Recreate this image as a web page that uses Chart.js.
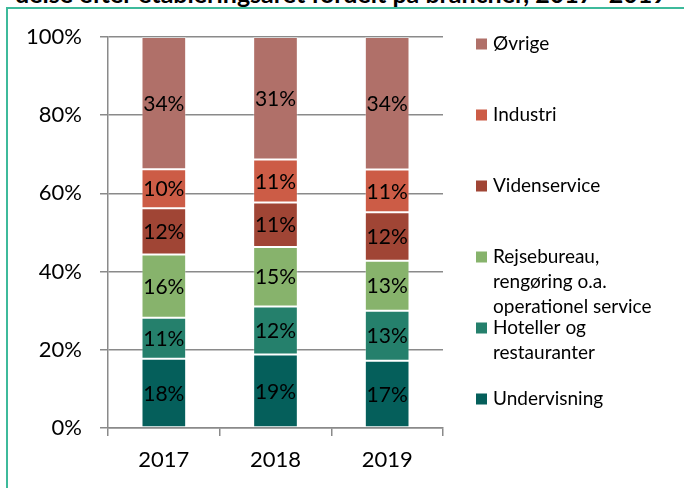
<!DOCTYPE html>
<html>
<head>
<meta charset="utf-8">
<script src="https://cdn.jsdelivr.net/npm/chart.js@4/dist/chart.umd.min.js"></script>
<style>
  html, body { margin: 0; padding: 0; background: #fff; overflow: hidden; }
  #wrap { position: relative; width: 684px; height: 488px; overflow: hidden; }
  #frame {
    position: absolute; left: 6px; top: 7px; width: 800px; height: 600px;
    border-left: 2px solid #3dba9b; border-top: 2px solid #3dba9b;
  }
  #title {
    position: absolute; left: 15px; top: -22px; white-space: nowrap;
    font: bold 25px Lato, sans-serif; line-height: 30px; color: #000;
  }
  canvas { position: absolute; left: 0; top: 0; }
</style>
</head>
<body>
<div id="wrap">
  <div id="title">delse efter etableringsåret fordelt på brancher, 2017- 2019</div>
  <div id="frame"></div>
  <canvas id="chart" width="684" height="488"></canvas>
</div>
<script>
// år
const years = ['2017', '2018', '2019'];

// brancher, nederst -> øverst i stakken
const seriesNames = [
  'Undervisning',
  'Hoteller og\nrestauranter',
  'Rejsebureau,\nrengøring o.a.\noperationel service',
  'Videnservice',
  'Industri',
  'Øvrige',
];
const seriesColors = ['#055f5b', '#25806c', '#87b36c', '#a04535', '#cc5c46', '#b07069'];

// andele i procent pr. år
const undervisning = [17.7, 18.8, 17.2];
const hoteller     = [10.5, 12.3, 12.8];
const rejsebureau  = [16.2, 15.2, 12.8];
const videnservice = [11.8, 11.4, 12.4];
const industri     = [10.0, 11.0, 10.9];
const oevrige      = [33.8, 31.3, 33.9];

const seriesValues = [undervisning, hoteller, rejsebureau, videnservice, industri, oevrige];

const yTicks = [0, 20, 40, 60, 80, 100];

const FONT = 'Lato, "Open Sans", sans-serif';

// procent-tekst midt i hvert segment
const segmentLabels = {
  id: 'segmentLabels',
  afterDatasetsDraw(chart) {
    const c = chart.ctx;
    c.save();
    c.font = '21px ' + FONT;
    c.fillStyle = '#000';
    c.textAlign = 'center';
    c.textBaseline = 'middle';
    chart.data.datasets.forEach((ds, di) => {
      chart.getDatasetMeta(di).data.forEach((bar, i) => {
        const p = bar.getProps(['x', 'y', 'base'], true);
        c.fillText(Math.round(ds.data[i]) + '%', p.x, (p.y + p.base) / 2 + 1);
      });
    });
    c.restore();
  }
};

// legende til højre, øverste serie først
const sideLegend = {
  id: 'sideLegend',
  afterDraw(chart) {
    const c = chart.ctx;
    const x0 = 476, y0 = 44, step = 71, lineH = 25, box = 11;
    c.save();
    c.font = '19px ' + FONT;
    c.textBaseline = 'middle';
    c.textAlign = 'left';
    const items = chart.data.datasets.slice().reverse();
    items.forEach((ds, k) => {
      const cy = y0 + k * step;
      c.fillStyle = ds.backgroundColor;
      c.fillRect(x0, cy - box / 2, box, box);
      c.fillStyle = '#000';
      ds.label.split('\n').forEach((line, j) => {
        c.fillText(line, x0 + 17, cy + j * lineH);
      });
    });
    c.restore();
  }
};

new Chart(document.getElementById('chart'), {
  type: 'bar',
  data: {
    labels: years,
    datasets: seriesNames.map((name, i) => ({
      label: name,
      data: seriesValues[i],
      backgroundColor: seriesColors[i],
      borderColor: 'rgba(255,255,255,0.3)',
      borderWidth: 1,
      borderSkipped: false,
      categoryPercentage: 1,
      barPercentage: 0.4,
    }))
  },
  options: {
    responsive: false,
    animation: false,
    layout: { padding: { left: 0, top: 37, right: 241, bottom: 0 } },
    plugins: {
      legend: { display: false },
      tooltip: { enabled: false },
    },
    scales: {
      x: {
        stacked: true,
        afterFit(s) { s.height = 60; },
        grid: {
          offset: true,
          drawOnChartArea: false,
          drawTicks: true,
          tickLength: 8,
          color: '#8a8a8a',
          lineWidth: 1.5,
        },
        border: { color: '#8a8a8a', width: 1.5 },
        ticks: { color: '#000', font: { family: FONT, size: 22 }, padding: 11 },
      },
      y: {
        stacked: true,
        min: 0,
        max: 100,
        afterFit(s) { s.width = 108; },
        afterBuildTicks(s) { s.ticks = yTicks.map(v => ({ value: v })); },
        grid: { color: '#8a8a8a', lineWidth: 1.5, tickLength: 8 },
        border: { color: '#8a8a8a', width: 1.5 },
        ticks: {
          color: '#000',
          font: { family: FONT, size: 22 },
          padding: 18,
          callback: v => v + '%',
        },
      }
    }
  },
  plugins: [segmentLabels, sideLegend]
});
</script>
</body>
</html>
